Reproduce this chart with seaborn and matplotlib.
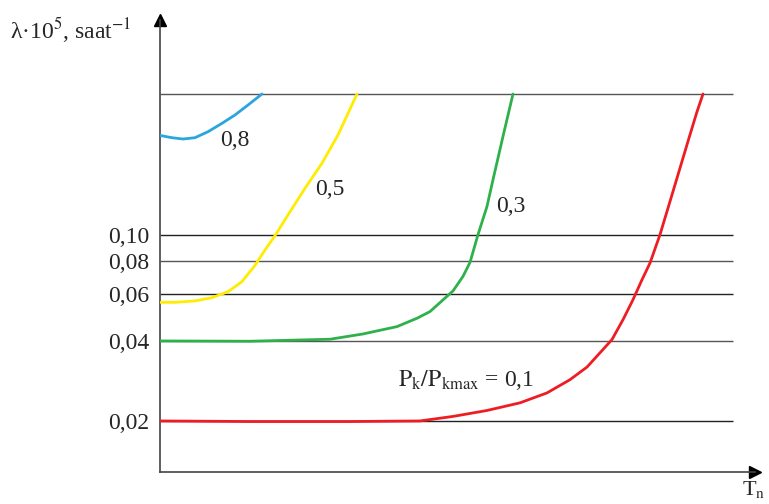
import numpy as np
import pandas as pd
import matplotlib
matplotlib.use("Agg")
import matplotlib.pyplot as plt
import seaborn as sns

# curve data (x in arbitrary T_n units, y = lambda*10^5 in saat^-1)
x_08 = [0, 1.2, 2.3, 3.5, 4.8, 6.2, 7.5, 8.8, 10.2]
y_08 = [0.2374, 0.2328, 0.2302, 0.2328, 0.2452, 0.2637, 0.2835, 0.309, 0.340]

x_05 = [0, 1.5, 3.5, 5.2, 6.8, 8.2, 9.5, 10.5, 11.5, 12.8, 14.5, 16.2, 17.8, 19.7]
y_05 = [0.0559, 0.0559, 0.0566, 0.0582, 0.0613, 0.0669, 0.0770, 0.0880, 0.0996,
        0.1192, 0.1502, 0.1866, 0.2384, 0.340]

x_03 = [0, 9, 17, 20.3, 23.7, 25.7, 27, 28.3, 29.3, 30.3, 31, 31.8, 32.7, 33.3, 34.3, 35.3]
y_03 = [0.0400, 0.0399, 0.0406, 0.0425, 0.0453, 0.0487, 0.0516, 0.0571, 0.0617,
        0.070, 0.079, 0.1005, 0.1284, 0.1618, 0.2355, 0.340]

x_01 = [0, 9, 19, 26, 29.3, 32.7, 36, 38.7, 41, 42.7, 44, 45.2, 46.3, 47.3, 48.2,
        49, 50, 51, 52, 53, 53.7, 54.3]
y_01 = [0.0200, 0.0199, 0.0199, 0.0200, 0.0208, 0.0219, 0.0234, 0.0255, 0.0286,
        0.0319, 0.0361, 0.0405, 0.0481, 0.0572, 0.068, 0.0786, 0.1005, 0.134,
        0.179, 0.239, 0.2916, 0.340]

grid_levels = [0.02, 0.04, 0.06, 0.08, 0.10, 0.340]
grid_colors = ["#222222", "#555555", "#222222", "#555555", "#222222", "#555555"]
tick_vals = [0.02, 0.04, 0.06, 0.08, 0.10]
tick_labels = ["0,02", "0,04", "0,06", "0,08", "0,10"]

sns.set_style("white")
plt.rcParams["font.family"] = ["Liberation Serif", "DejaVu Serif"]
plt.rcParams["mathtext.fontset"] = "stix"

fig = plt.figure(figsize=(7.69, 5.04), dpi=100)
ax = fig.add_axes([160 / 769, 32 / 504, 595 / 769, 452 / 504])

# horizontal reference lines
for lev, c in zip(grid_levels, grid_colors):
    ax.hlines(lev, 0, 57.3, color=c, lw=1.0, zorder=1)

curves = [
    (x_08, y_08, "#2aa5de"),
    (x_05, y_05, "#ffec00"),
    (x_03, y_03, "#2eb14b"),
    (x_01, y_01, "#ee1d24"),
]
for xs, ys, col in curves:
    df = pd.DataFrame({"x": xs, "y": ys})
    sns.lineplot(data=df, x="x", y="y", sort=False, color=col, lw=2.0, ax=ax,
                 zorder=3, solid_joinstyle="round", solid_capstyle="round")

ax.set_yscale("log")
ax.set_xlim(0, 59.5)
ax.set_ylim(0.01285, 0.6456)
ax.set_yticks(tick_vals)
ax.set_yticklabels(tick_labels, fontsize=17)
ax.set_yticks([], minor=True)
ax.set_xticks([])
ax.tick_params(axis="y", length=0, pad=8)
ax.set_xlabel("")
ax.set_ylabel("")
for s in ["top", "right"]:
    ax.spines[s].set_visible(False)
for s in ["left", "bottom"]:
    ax.spines[s].set_color("#444444")
    ax.spines[s].set_linewidth(1.2)

# axis arrows
ax.plot(0, 1, marker="^", color="black", markersize=8, transform=ax.transAxes, clip_on=False)
ax.plot(1, 0, marker=">", color="black", markersize=8, transform=ax.transAxes, clip_on=False)

# curve labels
ax.text(6.0, 0.228, "0,8", fontsize=17, ha="left", va="center")
ax.text(15.5, 0.148, "0,5", fontsize=17, ha="left", va="center")
ax.text(33.6, 0.1284, "0,3", fontsize=17, ha="left", va="center")
ax.text(23.8, 0.0284, r"$\mathrm{P_k/P_{kmax}}$ = 0,1", fontsize=17, ha="left", va="center")

fig.text(10 / 769, 1 - 30 / 504, r"λ·10$^5$, saat$^{-1}$", fontsize=17, ha="left", va="center")
fig.text(742 / 769, 1 - 489 / 504, r"T$_\mathrm{n}$", fontsize=16, ha="left", va="center")

fig.savefig("out.png", dpi=100)
